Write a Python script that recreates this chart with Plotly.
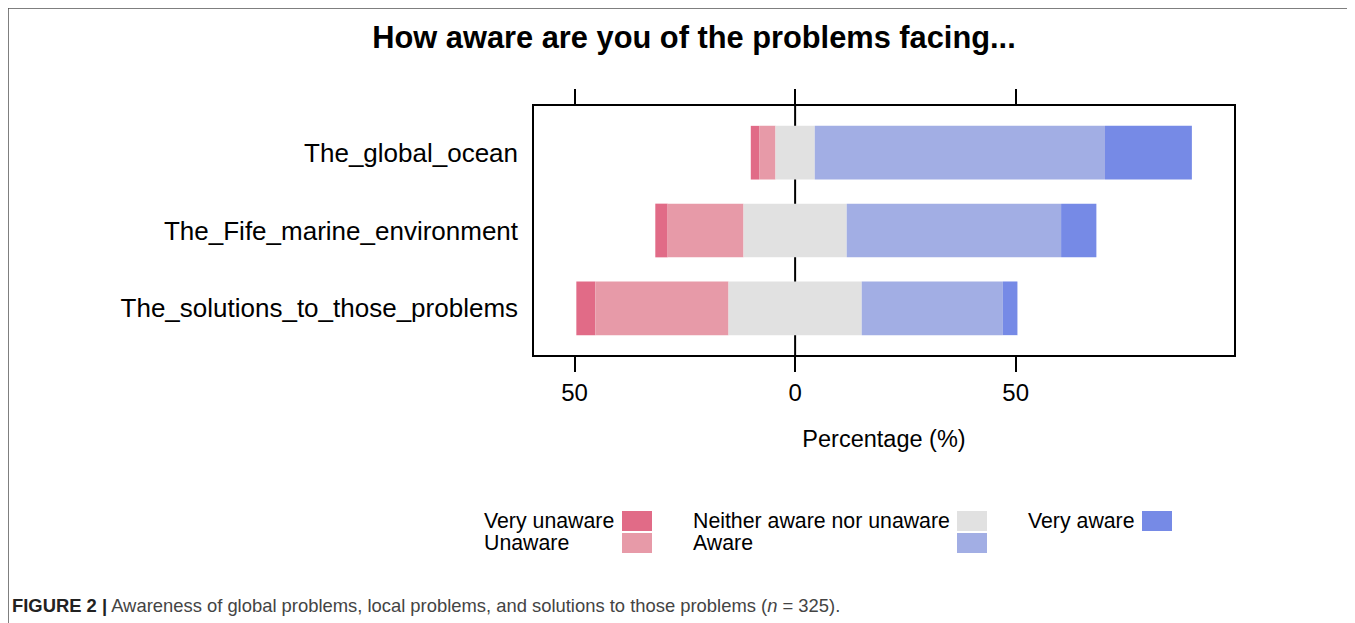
import plotly.graph_objects as go

# data (percent of respondents, n = 325)
categories = ["The_global_ocean", "The_Fife_marine_environment", "The_solutions_to_those_problems"]
very_unaware = [1.9, 2.8, 4.3]
unaware = [3.7, 17.2, 30.2]
neither = [8.9, 23.4, 30.2]
aware = [65.8, 48.6, 32.0]
very_aware = [19.7, 8.0, 3.3]

levels = ["Very unaware", "Unaware", "Neither aware nor unaware", "Aware", "Very aware"]
colors = ["#E16B87", "#E79AA8", "#E1E1E1", "#A2AEE4", "#768AE6"]

FONT = "Arial, Liberation Sans, Helvetica, sans-serif"
OFF = 8  # page body margin; reference pixel coords are shifted by this
W, H = 1355 - OFF, 623 - OFF
L, R, T, B = 534 - OFF, 1234 - OFF, 106 - OFF, 355 - OFF  # plot area in pixels


def px(x):
    return (x - OFF - L) / (R - L)


def py(y):
    return (B - (y - OFF)) / (B - T)


fig = go.Figure()

# diverging stack: neutral centred on zero, negatives grow leftwards
series = [very_unaware, unaware, neither, aware, very_aware]
starts = [[-(vu + u + n / 2) for vu, u, n in zip(very_unaware, unaware, neither)]]
for s in series[:-1]:
    starts.append([b + v for b, v in zip(starts[-1], s)])

for vals, base, col in zip(series, starts, colors):
    fig.add_trace(go.Bar(
        y=categories, x=vals, base=base, orientation="h",
        marker=dict(color=col, line=dict(width=0)),
        showlegend=False, hoverinfo="skip",
    ))

fig.update_layout(
    width=W, height=H,
    barmode="overlay", bargap=0.31,
    plot_bgcolor="white", paper_bgcolor="white",
    margin=dict(l=L, r=W - R, t=T, b=H - B),
    font=dict(family=FONT, color="black"),
    title=dict(text="<b>How aware are you of the problems facing...</b>",
               x=(694 - OFF) / W, xanchor="center", y=1 - (37 - OFF) / H, yanchor="middle",
               font=dict(size=30.8, color="black")),
)

fig.update_xaxes(
    range=[-59.2, 99.5], tickvals=[-50, 0, 50], ticktext=["50", "0", "50"],
    showgrid=False, zeroline=False,
    showline=True, linecolor="black", linewidth=1.5, mirror="ticks",
    ticks="outside", ticklen=15, tickwidth=1.5, tickcolor="black",
    tickfont=dict(size=24),
    title=dict(text="Percentage (%)", font=dict(size=23.5), standoff=26),
)
fig.update_yaxes(
    categoryorder="array", categoryarray=categories[::-1],
    range=[-0.6, 2.6],
    showgrid=False, zeroline=False,
    showline=True, linecolor="black", linewidth=1.5, mirror=True,
    ticks="", tickfont=dict(size=26), ticklabelstandoff=9,
)

# zero reference line behind bars
fig.add_shape(type="line", xref="x", yref="paper", x0=0, x1=0, y0=0, y1=1,
              line=dict(color="black", width=2), layer="below")

# outer figure panel border (top and left)
fig.add_shape(type="line", xref="paper", yref="paper",
              x0=px(8), x1=px(1360), y0=py(8), y1=py(8),
              line=dict(color="#555555", width=1.5))
fig.add_shape(type="line", xref="paper", yref="paper",
              x0=px(8), x1=px(8), y0=py(8), y1=py(630),
              line=dict(color="#555555", width=1.5))

# legend: label text followed by swatch, laid out column-wise
legend_items = [
    (0, 483, 622, 521),
    (1, 483, 622, 543),
    (2, 692, 957, 521),
    (3, 692, 957, 543),
    (4, 1027, 1142, 521),
]
for idx, tx, sx, cy in legend_items:
    fig.add_annotation(text=levels[idx], xref="paper", yref="paper",
                       x=px(tx), y=py(cy), xanchor="left", yanchor="middle",
                       showarrow=False, borderpad=0, font=dict(size=21.3, color="black"))
    fig.add_shape(type="rect", xref="paper", yref="paper",
                  x0=px(sx), x1=px(sx + 30), y0=py(cy - 10), y1=py(cy + 10),
                  fillcolor=colors[idx], line=dict(width=0))

# caption
fig.add_annotation(
    text="<b>FIGURE 2 |</b> <span style='color:#444444'>Awareness of global problems, local problems, "
         "and solutions to those problems (<i>n</i> = 325).</span>",
    xref="paper", yref="paper", x=px(11), y=py(605), xanchor="left", yanchor="middle",
    showarrow=False, borderpad=0,
    font=dict(size=18.4, family=FONT, color="#222222"),
)

fig.write_html("out.html")
